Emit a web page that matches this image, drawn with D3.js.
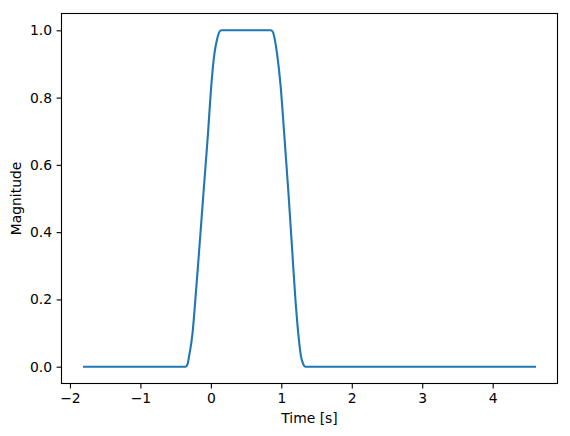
<!DOCTYPE html>
<html>
<head>
<meta charset="utf-8">
<script src="https://cdn.jsdelivr.net/npm/d3@7"></script>
<style>
  body { margin: 0; background: #fff; }
  text { font-family: "DejaVu Sans", sans-serif; fill: #000; }
</style>
</head>
<body>
<svg id="chart" width="570" height="436"></svg>
<script>
// time samples [s] and magnitude
let time_s = [-1.8, -0.36, -0.33, -0.31, -0.26, -0.22, -0.17, -0.10, -0.04, 0.00, 0.05, 0.09, 0.12, 0.15,
              0.85, 0.88, 0.91, 0.94, 0.99, 1.04, 1.10, 1.15, 1.20, 1.24, 1.28, 1.31, 1.34, 4.6]
let magnitude = [0, 0, 0.008, 0.03, 0.10, 0.20, 0.335, 0.53, 0.695, 0.82, 0.93, 0.975, 0.995, 1.0,
                 1.0, 0.995, 0.97, 0.93, 0.835, 0.695, 0.52, 0.36, 0.20, 0.10, 0.03, 0.008, 0, 0]
let x_ticks = [-2, -1, 0, 1, 2, 3, 4]
let y_ticks = [0, 0.2, 0.4, 0.6, 0.8, 1.0]

let ax_left = 61.5, ax_right = 557.5, ax_top = 13.5, ax_bottom = 383.5
let svg = d3.select("#chart")

let x_pad = (4.6 - -1.8) * 0.05
let x = d3.scaleLinear().domain([-1.8 - x_pad, 4.6 + x_pad]).range([ax_left, ax_right])
let y = d3.scaleLinear().domain([-0.05, 1.05]).range([ax_bottom, ax_top])

let fmt_minus = d => d3.format("d")(d).replace("-", "\u2212")

svg.append("g")
  .attr("transform", `translate(0,${ax_bottom})`)
  .call(d3.axisBottom(x).tickValues(x_ticks).tickFormat(fmt_minus).tickSize(4.9).tickPadding(4.5))
svg.append("g")
  .attr("transform", `translate(${ax_left},0)`)
  .call(d3.axisLeft(y).tickValues(y_ticks).tickFormat(d3.format(".1f")).tickSize(4.9).tickPadding(4.5))

svg.selectAll(".domain").remove()
svg.selectAll(".tick line").attr("stroke", "#000").attr("stroke-width", 1.1)
svg.selectAll(".tick text").attr("font-size", 13.9).attr("font-family", "DejaVu Sans").attr("fill", "#000")

// plot line
let line = d3.line()
  .x((d, i) => x(time_s[i]))
  .y(d => y(d))
  .curve(d3.curveMonotoneX)

svg.append("path")
  .attr("d", line(magnitude))
  .attr("fill", "none")
  .attr("stroke", "#1f77b4")
  .attr("stroke-width", 2.1)
  .attr("stroke-linejoin", "round")
  .attr("stroke-linecap", "square")

// frame
svg.append("rect")
  .attr("x", ax_left).attr("y", ax_top)
  .attr("width", ax_right - ax_left).attr("height", ax_bottom - ax_top)
  .attr("fill", "none").attr("stroke", "#000").attr("stroke-width", 1.1)

svg.append("text")
  .attr("x", (ax_left + ax_right) / 2).attr("y", 423)
  .attr("text-anchor", "middle")
  .attr("font-size", 13.9)
  .text("Time [s]")

svg.append("text")
  .attr("transform", `translate(21,${(ax_top + ax_bottom) / 2}) rotate(-90)`)
  .attr("text-anchor", "middle")
  .attr("font-size", 13.9)
  .text("Magnitude")
</script>
</body>
</html>
